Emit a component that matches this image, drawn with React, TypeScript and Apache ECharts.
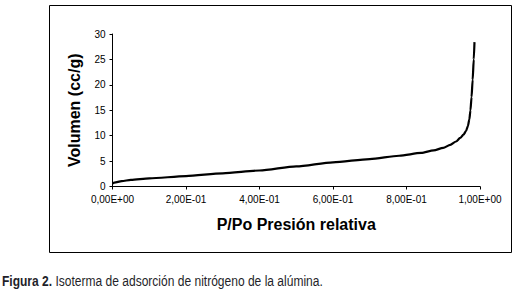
import React, { useEffect, useRef } from "react";
import * as echarts from "echarts";

const pressure = [0, 0.005, 0.025, 0.05, 0.1, 0.2, 0.3, 0.4, 0.5, 0.6, 0.7, 0.78, 0.84, 0.874, 0.9, 0.919, 0.935, 0.946, 0.955, 0.962, 0.967, 0.971, 0.974, 0.977, 0.98, 0.983, 0.985];
const volume = [0.6, 0.75, 1.05, 1.3, 1.6, 2.05, 2.6, 3.15, 3.95, 4.75, 5.4, 6.05, 6.6, 7.1, 7.6, 8.2, 8.85, 9.55, 10.2, 10.9, 11.9, 13.2, 15, 17.6, 21, 25, 28.4];
const yTicks = [0, 5, 10, 15, 20, 25, 30];
const xTicks = [0, 0.2, 0.4, 0.6, 0.8, 1.0];
const xTitle = "P/Po Presión relativa";
const yTitle = "Volumen (cc/g)";
const captionBold = "Figura 2.";
const captionText = " Isoterma de adsorción de nitrógeno de la alúmina.";

function sci(v: number): string {
  if (Math.abs(v) < 1e-12) return "0,00E+00";
  const e = Math.floor(Math.round(Math.log10(Math.abs(v)) * 1e9) / 1e9);
  const m = v / Math.pow(10, e);
  const s = m.toFixed(2).replace(".", ",");
  const ae = Math.abs(e);
  return s + "E" + (e < 0 ? "-" : "+") + (ae < 10 ? "0" + ae : String(ae));
}

const FONT = "'Liberation Sans', Arial, sans-serif";
const CAP_SIZE = 14;

function captionScale(): number {
  try {
    const c = document.createElement("canvas").getContext("2d");
    if (!c) return 0.84;
    c.font = "bold " + CAP_SIZE + "px 'Liberation Sans'";
    const w1 = c.measureText(captionBold).width;
    c.font = CAP_SIZE + "px 'Liberation Sans'";
    const w2 = c.measureText(captionText).width;
    const total = w1 + w2;
    return total > 0 ? 321 / total : 0.84;
  } catch (e) {
    return 0.84;
  }
}

export default function App() {
  const ref = useRef<HTMLDivElement>(null);
  useEffect(() => {
    if (!ref.current) return;
    const chart = echarts.init(ref.current, undefined, { renderer: "svg" });
    const sx = captionScale();
    chart.setOption({
      animation: false,
      backgroundColor: "#ffffff",
      textStyle: { fontFamily: FONT },
      grid: { left: 112.5, right: 44, top: 34, bottom: 109.5, containLabel: false },
      xAxis: {
        type: "value",
        min: xTicks[0],
        max: xTicks[xTicks.length - 1],
        interval: 0.2,
        splitLine: { show: false },
        axisLine: { show: true, lineStyle: { color: "#000", width: 1 } },
        axisTick: { show: true, length: 3, lineStyle: { color: "#000" } },
        axisLabel: { color: "#000", fontSize: 10, fontFamily: FONT, margin: 8, formatter: (v: number) => sci(v) },
        name: xTitle,
        nameLocation: "middle",
        nameGap: 30,
        nameTextStyle: { color: "#000", fontSize: 16, fontWeight: "bold", fontFamily: FONT },
      },
      yAxis: {
        type: "value",
        min: yTicks[0],
        max: yTicks[yTicks.length - 1],
        interval: 5,
        splitLine: { show: false },
        axisLine: { show: true, lineStyle: { color: "#000", width: 1 } },
        axisTick: { show: true, length: 3, lineStyle: { color: "#000" } },
        axisLabel: { color: "#000", fontSize: 10, fontFamily: FONT, margin: 7 },
        name: yTitle,
        nameLocation: "middle",
        nameGap: 30,
        nameTextStyle: { color: "#000", fontSize: 16, fontWeight: "bold", fontFamily: FONT },
      },
      series: [
        {
          type: "line",
          data: pressure.map((p, i) => [p, volume[i]]),
          smooth: 0.25,
          smoothMonotone: "x",
          showSymbol: false,
          lineStyle: { color: "#000", width: 2.2 },
        },
      ],
      graphic: [
        {
          type: "rect",
          shape: { x: 49.5, y: 5.5, width: 462, height: 247 },
          style: { fill: "none", stroke: "#000", lineWidth: 1 },
          silent: true,
        },
        {
          type: "text",
          x: 2,
          y: 274,
          scaleX: sx,
          style: {
            text: "{b|" + captionBold + "}{r|" + captionText + "}",
            rich: {
              b: { fontFamily: "'Liberation Sans', sans-serif", fontSize: CAP_SIZE, fontWeight: "bold", fill: "#1f1f2a" },
              r: { fontFamily: "'Liberation Sans', sans-serif", fontSize: CAP_SIZE, fill: "#1f1f2a" },
            },
          },
        },
      ],
    });
    return () => chart.dispose();
  }, []);
  return (
    <div
      ref={ref}
      style={{ position: "fixed", left: 0, top: 0, width: 524, height: 296, background: "#fff" }}
    />
  );
}
